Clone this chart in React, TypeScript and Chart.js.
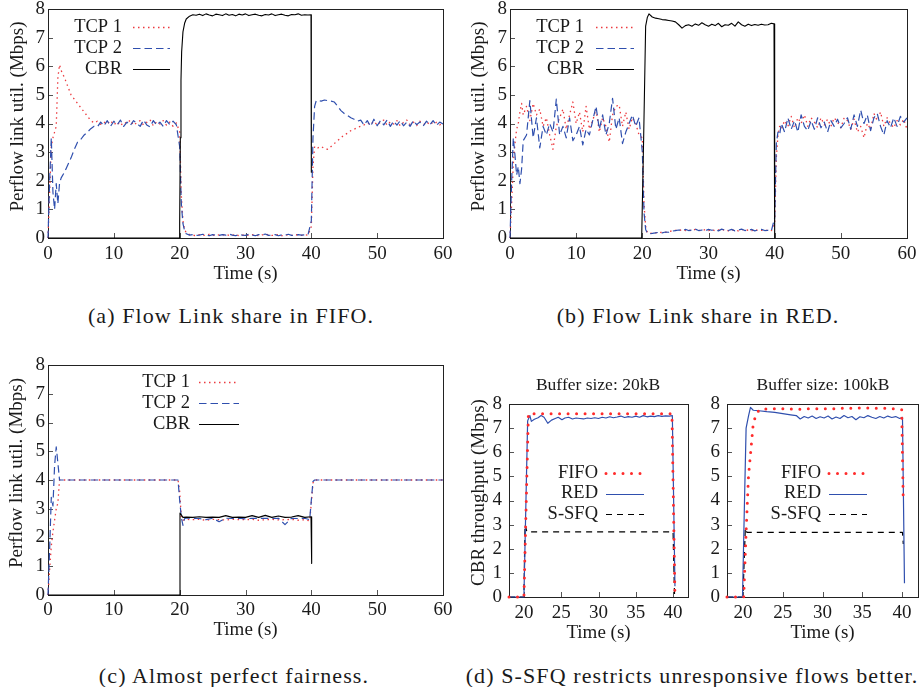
import React, { useEffect, useRef } from "react";
import { Chart, registerables } from "chart.js";

Chart.register(...registerables);

const SERIF = "'Liberation Serif', 'Times New Roman', Times, serif";
const INK = "#1a1a1a";
const RED = "#ec3a3f";
const BLUE = "#2f4fae";
const BLACK = "#000000";
const FIFO_RED = "#ff2b2b";

// ---------- tick labels ----------
const xTicksFull = [0, 10, 20, 30, 40, 50, 60];
const xTicksZoom = [20, 25, 30, 35, 40];
const yTicks = [0, 1, 2, 3, 4, 5, 6, 7, 8];

// ---------- panels (a) and (b): shared time grid (s) ----------
const timeGridAB = [
  0, 0.25, 0.5, 0.75, 1, 1.25, 1.5, 1.75, 2,
  2.5, 3, 3.5, 4, 4.5, 5, 5.5, 6, 6.5, 7,
  7.5, 8, 8.5, 9, 9.5, 10, 10.5, 11, 11.5, 12,
  12.5, 13, 13.5, 14, 14.5, 15, 15.5, 16, 16.5, 17,
  17.5, 18, 18.5, 19, 19.5,
  20, 20.25, 20.5, 20.75,
  21, 21.5, 22, 22.5, 23, 23.5, 24, 24.5, 25, 25.5,
  26, 26.5, 27, 27.5, 28, 28.5, 29, 29.5, 30, 30.5,
  31, 31.5, 32, 32.5, 33, 33.5, 34, 34.5, 35, 35.5,
  36, 36.5, 37, 37.5, 38, 38.5, 39, 39.5,
  40, 40.25, 40.5, 40.75,
  41, 41.5, 42, 42.5, 43, 43.5, 44, 44.5, 45, 45.5,
  46, 46.5, 47, 47.5, 48, 48.5, 49, 49.5, 50, 50.5,
  51, 51.5, 52, 52.5, 53, 53.5, 54, 54.5, 55, 55.5,
  56, 56.5, 57, 57.5, 58, 58.5, 59, 59.5, 60,
];

// (a) FIFO
const fifoTcp1 = [
  0, 1.6, 3.2, 3.5, 3.7, 3.9, 5.6, 6.05, 5.85,
  5.6, 5.3, 5.0, 4.85, 4.7, 4.55, 4.4, 4.25, 4.1, 4.02,
  4.08, 3.97, 4.05, 3.98, 4.1, 3.95, 4.06, 3.92, 4.05, 4.0,
  4.12, 3.94, 4.03, 4.1, 3.95, 4.04, 4.13, 3.92, 4.06, 3.98,
  4.1, 3.94, 4.05, 3.9, 4.02,
  3.7, 1.5, 0.6, 0.3,
  0.18, 0.12, 0.1, 0.08, 0.12, 0.1, 0.09, 0.13, 0.1, 0.08,
  0.11, 0.1, 0.13, 0.09, 0.1, 0.12, 0.08, 0.1, 0.11, 0.09,
  0.12, 0.1, 0.08, 0.11, 0.1, 0.13, 0.09, 0.1, 0.12, 0.08,
  0.1, 0.11, 0.09, 0.12, 0.1, 0.09, 0.11, 0.1,
  0.4, 2.5, 3.2, 3.15,
  3.15, 3.2, 3.12, 3.1, 3.2, 3.3, 3.4, 3.5, 3.6, 3.66,
  3.75, 3.8, 3.86, 3.9, 3.95, 4.02, 3.96, 4.08, 3.95, 4.05,
  4.12, 3.94, 4.06, 3.98, 4.1, 3.92, 4.04, 4.12, 3.96, 4.05,
  3.93, 4.08, 4.0, 3.94, 4.07, 3.98, 4.04, 3.95, 4.02,
];
const fifoTcp2 = [
  0, 2.0, 3.5, 1.6, 1.0, 1.9, 1.2, 1.9, 2.1,
  2.3, 2.55, 2.8, 3.1, 3.35, 3.45, 3.6, 3.7, 3.82, 3.9,
  3.88, 4.05, 3.92, 4.1, 3.9, 4.08, 3.95, 4.12, 3.9, 4.05,
  3.93, 4.1, 4.0, 3.9, 4.12, 3.95, 3.88, 4.1, 3.94, 4.05,
  3.9, 4.1, 3.96, 4.08, 3.95,
  3.2, 1.2, 0.5, 0.25,
  0.15, 0.1, 0.12, 0.09, 0.1, 0.13, 0.1, 0.08, 0.12, 0.1,
  0.09, 0.12, 0.1, 0.14, 0.1, 0.08, 0.12, 0.1, 0.09, 0.13,
  0.1, 0.08, 0.12, 0.1, 0.14, 0.09, 0.1, 0.12, 0.08, 0.11,
  0.1, 0.13, 0.09, 0.1, 0.12, 0.1, 0.11, 0.12,
  0.6, 3.5, 4.6, 4.8,
  4.8, 4.78, 4.82, 4.8, 4.78, 4.75, 4.6, 4.45, 4.35, 4.28,
  4.2, 4.15, 4.08, 4.12, 3.95, 4.1, 3.9, 4.15, 3.92, 4.1,
  3.95, 4.12, 3.9, 4.08, 3.94, 4.1, 3.92, 4.05, 3.9, 4.1,
  3.96, 4.05, 3.92, 4.08, 3.95, 4.1, 3.93, 4.05, 3.98,
];
const fifoCbrTime = [
  0, 19.9, 20, 20.1, 20.2, 20.3, 20.5, 20.75, 21, 21.5, 22,
  22.5, 23, 23.5, 24, 24.5, 25, 25.5, 26, 26.5, 27,
  27.5, 28, 28.5, 29, 29.5, 30, 30.5, 31, 31.5, 32,
  32.5, 33, 33.5, 34, 34.5, 35, 35.5, 36, 36.5, 37,
  37.5, 38, 38.5, 39, 39.5,
  39.95, 40,
];
const fifoCbrVals = [
  0, 0, 0.5, 3.5, 5.5, 6.5, 7.2, 7.5, 7.65, 7.75, 7.8,
  7.78, 7.82, 7.77, 7.83, 7.79, 7.76, 7.82, 7.8, 7.77, 7.83,
  7.78, 7.81, 7.76, 7.82, 7.79, 7.83, 7.77, 7.8, 7.82, 7.78,
  7.76, 7.81, 7.79, 7.83, 7.77, 7.8, 7.82, 7.78, 7.76, 7.81,
  7.8, 7.83, 7.78, 7.8, 7.79,
  7.8, 2.3,
];

// (b) RED
const redTcp1 = [
  0, 1.2, 2.6, 3.3, 3.8, 4.0, 4.4, 4.7, 4.3,
  4.6, 4.1, 4.7, 4.3, 4.5, 3.9, 4.2, 3.6, 3.1, 3.9,
  4.2, 4.5, 3.8, 4.3, 4.75, 4.0, 4.4, 3.7, 4.6, 3.8,
  4.1, 4.5, 3.7, 4.2, 3.9, 3.35, 4.3, 4.6, 4.65, 3.9,
  4.4, 3.8, 4.2, 4.0, 3.6,
  3.5, 1.2, 0.4, 0.2,
  0.15, 0.17, 0.18, 0.2, 0.19, 0.2, 0.22, 0.25, 0.27, 0.25,
  0.3, 0.26, 0.28, 0.25, 0.3, 0.27, 0.25, 0.29, 0.26, 0.3,
  0.25, 0.28, 0.26, 0.3, 0.25, 0.28, 0.27, 0.25, 0.3, 0.26,
  0.28, 0.25, 0.3, 0.26, 0.27, 0.25, 0.28, 0.26,
  0.5, 2.8, 3.6, 3.9,
  3.8, 4.1, 3.9, 4.25, 3.85, 4.2, 4.0, 4.3, 3.9, 4.2,
  4.05, 3.85, 4.2, 3.95, 4.15, 3.9, 4.2, 4.05, 3.85, 4.2,
  4.1, 3.8, 4.15, 3.7, 3.9, 3.5, 4.0, 3.8, 4.35, 4.1,
  4.4, 3.9, 4.2, 4.0, 3.85, 4.1, 3.95, 4.15, 3.8,
];
const redTcp2 = [
  0, 2.0, 3.5, 2.9, 2.2, 2.5, 1.9, 2.4, 3.4,
  3.6, 4.8, 3.5, 4.2, 3.15, 3.9, 3.6, 4.0, 3.7, 4.85,
  3.6, 3.9, 3.5, 4.2, 3.4, 3.6, 3.9, 3.25, 3.8, 3.6,
  4.1, 4.6, 3.8, 4.3, 3.6, 4.0, 4.88, 3.8, 4.2, 3.3,
  3.7, 4.0, 4.3, 3.9, 4.2,
  3.0, 0.9, 0.3, 0.18,
  0.15, 0.16, 0.18, 0.2, 0.18, 0.21, 0.2, 0.24, 0.26, 0.28,
  0.27, 0.3, 0.26, 0.28, 0.31, 0.26, 0.28, 0.25, 0.3, 0.27,
  0.29, 0.25, 0.31, 0.27, 0.26, 0.3, 0.25, 0.28, 0.31, 0.26,
  0.27, 0.3, 0.25, 0.28, 0.3, 0.26, 0.27, 0.25,
  0.7, 3.3, 3.7, 3.6,
  4.0, 3.7, 4.2, 3.8, 4.1, 3.7, 4.3, 3.9, 3.75, 4.1,
  3.8, 4.2, 3.85, 4.05, 3.7, 4.1, 3.9, 4.15, 3.85, 4.0,
  4.2, 3.8, 4.3, 3.9, 4.47, 4.0, 4.3, 3.75, 4.2, 4.35,
  3.9, 3.6, 4.1, 3.85, 4.2, 3.9, 4.25, 4.05, 4.2,
];
const redCbrTime = [
  0, 19.9, 20.2, 20.5, 20.75, 21, 21.5, 22, 22.5, 23,
  23.5, 24, 24.5, 25, 25.5, 26,
  26.5, 27, 27.5, 28, 28.5, 29, 29.5, 30, 30.5, 31,
  31.5, 32, 32.5, 33, 33.5, 34, 34.5, 35, 35.5, 36,
  36.5, 37, 37.5, 38, 38.5, 39, 39.5,
  39.9, 40,
];
const redCbrVals = [
  0, 0, 3.5, 7.4, 7.7, 7.83, 7.72, 7.68, 7.66, 7.63,
  7.62, 7.6, 7.58, 7.55, 7.45, 7.33,
  7.42, 7.45, 7.4, 7.48, 7.43, 7.52, 7.45, 7.4, 7.47, 7.42,
  7.5, 7.38, 7.45, 7.43, 7.5, 7.4, 7.55, 7.45, 7.4, 7.47,
  7.42, 7.46, 7.43, 7.47, 7.44, 7.45, 7.5,
  7.48, 0,
];

// ---------- panel (c): S-SFQ ----------
const sfqTime = [
  0, 0.25, 0.5, 0.75, 1, 1.25, 1.5, 1.75, 2,
  4, 6, 8, 10, 12, 14, 16, 18, 19.75,
  20, 20.25, 20.5, 20.75, 21,
  22, 23, 24, 25, 26, 27, 28, 29, 30, 31, 32, 33, 34, 35, 36, 37, 38,
  39, 39.75,
  40, 40.25, 40.5, 41,
  44, 48, 52, 56, 60,
];
const sfqTcp1 = [
  0, 0.9, 1.7, 2.2, 2.6, 3.0, 3.2, 4.0, 4.0,
  4.0, 4.0, 4.0, 4.0, 4.0, 4.0, 4.0, 4.0, 4.0,
  3.6, 2.7, 2.6, 2.62, 2.63,
  2.62, 2.63, 2.6, 2.63, 2.62, 2.61, 2.63, 2.62, 2.62, 2.63, 2.6, 2.62, 2.63, 2.61, 2.62, 2.63, 2.6,
  2.62, 2.58,
  3.2, 3.9, 4.0, 4.0,
  4.0, 4.0, 4.0, 4.0, 4.0,
];
const sfqTcp2 = [
  0, 1.6, 3.4, 3.1, 4.5, 5.15, 4.6, 4.0, 4.0,
  4.0, 4.0, 4.0, 4.0, 4.0, 4.0, 4.0, 4.0, 4.0,
  3.3, 2.7, 2.42, 2.66, 2.67,
  2.67, 2.66, 2.62, 2.67, 2.55, 2.67, 2.66, 2.67, 2.65, 2.67, 2.66, 2.67, 2.66, 2.67, 2.45, 2.67, 2.66,
  2.67, 2.62,
  3.3, 3.95, 4.0, 4.0,
  4.0, 4.0, 4.0, 4.0, 4.0,
];
const sfqCbrTime = [
  0, 19.95, 20.05, 20.5, 21,
  22, 23, 24, 25, 26, 27, 28, 29, 30, 31, 32, 33, 34, 35, 36, 37, 38, 39,
  39.95, 40.05,
];
const sfqCbrVals = [
  0, 0, 2.85, 2.7, 2.71,
  2.7, 2.72, 2.7, 2.71, 2.7, 2.76, 2.7, 2.71, 2.7, 2.76, 2.7, 2.77, 2.7, 2.75, 2.7, 2.71, 2.76, 2.7,
  2.72, 1.1,
];

// ---------- panel (d): CBR throughput, buffer 20kB ----------
const buf20FifoTime = [18, 20.0, 20.6, 22, 25, 30, 35, 39.85, 40.25];
const buf20FifoVals = [0, 0, 7.6, 7.6, 7.6, 7.6, 7.6, 7.6, 0];
const buf20RedTime = [
  18, 20.0, 20.5, 20.8, 21.0, 21.4, 21.9, 22.3, 22.7, 23.2,
  23.7, 24.2, 24.6, 25.1, 25.5,
  26, 26.5, 27, 27.5, 28, 28.5, 29, 29.5, 30, 30.5,
  31, 31.5, 32, 32.5, 33, 33.5, 34, 34.5, 35, 35.5,
  36, 36.5, 37, 37.5, 38, 38.5, 39, 39.5,
  39.9, 40.25,
];
const buf20RedVals = [
  0, 0, 7.3, 7.52, 7.28, 7.37, 7.43, 7.52, 7.45, 7.2,
  7.33, 7.4, 7.45, 7.35, 7.42,
  7.45, 7.38, 7.42, 7.4, 7.38, 7.42, 7.4, 7.43, 7.4, 7.45,
  7.42, 7.47, 7.43, 7.46, 7.5, 7.44, 7.48, 7.45, 7.5, 7.45,
  7.52, 7.47, 7.5, 7.48, 7.52, 7.49, 7.51, 7.5,
  7.52, 0.45,
];
const buf20SfqTime = [18, 20.0, 20.15, 20.4, 40.0, 40.2];
const buf20SfqVals = [0, 0, 3.0, 2.7, 2.7, 0];

// ---------- panel (d): CBR throughput, buffer 100kB ----------
const buf100FifoTime = [
  18, 20.1, 20.4, 20.7, 21.0, 21.3, 21.7, 22.1,
  23, 24, 25, 26, 27, 28, 29, 30, 31, 32, 33, 34, 35, 36, 37, 38, 39,
  39.95, 40.15,
];
const buf100FifoVals = [
  0, 0, 2.7, 5.0, 6.1, 7.2, 7.6, 7.78,
  7.8, 7.8, 7.8, 7.79, 7.78, 7.8, 7.8, 7.81, 7.8, 7.81, 7.83, 7.82, 7.84, 7.83, 7.82, 7.82, 7.8,
  7.76, 3.9,
];
const buf100RedTime = [
  18, 19.95, 20.2, 20.4, 20.7, 20.95, 21.3,
  22, 23, 24, 25, 26,
  26.7, 27.2, 27.7, 28.2, 28.7, 29.2, 29.7, 30.2, 30.7, 31.2,
  31.7, 32.2, 32.7, 33.2, 33.7, 34.2, 34.7, 35.2, 35.7, 36.2,
  36.7, 37.2, 37.7, 38.2, 38.7, 39.2, 39.7,
  40.05, 40.3,
];
const buf100RedVals = [
  0, 0, 4.0, 7.0, 7.5, 7.86, 7.74,
  7.72, 7.68, 7.65, 7.6, 7.55,
  7.52, 7.38, 7.48, 7.42, 7.5, 7.4, 7.47, 7.42, 7.5, 7.38,
  7.46, 7.4, 7.52, 7.43, 7.48, 7.35, 7.47, 7.43, 7.52, 7.45,
  7.4, 7.48, 7.42, 7.5, 7.44, 7.48, 7.4,
  7.45, 0.57,
];
const buf100SfqTime = [18, 20.0, 20.3, 20.5, 40.05, 40.15];
const buf100SfqVals = [0, 0, 2.85, 2.68, 2.68, 2.2];

// ---------- captions ----------
const captionTexts = [
  "(a) Flow Link share in FIFO.",
  "(b) Flow Link share in RED.",
  "(c) Almost perfect fairness.",
  "(d) S-SFQ restricts unresponsive flows better.",
];
const captionCenterX = [231, 698, 234, 692];
const captionCenterY = [316, 316, 676, 676];

// ---------- types ----------
type Rect = { left: number; top: number; width: number; height: number };
type Plot = { left: number; top: number; right: number; bottom: number };
type Line = {
  label: string;
  t: number[];
  v: number[];
  color: string;
  width: number;
  dash: number[];
  cap: CanvasLineCap;
  order: number;
};
type Legend = { textRight: number; x1: number; x2: number; rows: number[]; size: number };
type Panel = {
  id: string;
  canvas: Rect;
  plot: Plot;
  xMin: number;
  xMax: number;
  xTicks: number[];
  xTitle: string;
  yTitle: string;
  yTitleX: number;
  yTitleY: number;
  title?: string;
  titleX?: number;
  titleY?: number;
  legend: Legend;
  lines: Line[];
  xPad: number;
  yPad: number;
};

const tcpLines = (t1: number[], v1: number[], t2: number[], v2: number[], tc: number[], vc: number[]): Line[] => [
  { label: "TCP 1", t: t1, v: v1, color: RED, width: 1.3, dash: [1.5, 3.5], cap: "butt", order: 2 },
  { label: "TCP 2", t: t2, v: v2, color: BLUE, width: 1.2, dash: [7.5, 4], cap: "butt", order: 1 },
  { label: "CBR", t: tc, v: vc, color: BLACK, width: 1.1, dash: [], cap: "butt", order: 0 },
];
const cbrLines = (tf: number[], vf: number[], tr: number[], vr: number[], ts: number[], vs: number[]): Line[] => [
  { label: "FIFO", t: tf, v: vf, color: FIFO_RED, width: 3, dash: [0, 8.5], cap: "round", order: 0 },
  { label: "RED", t: tr, v: vr, color: BLUE, width: 1.2, dash: [], cap: "butt", order: 1 },
  { label: "S-SFQ", t: ts, v: vs, color: BLACK, width: 1.2, dash: [6, 5], cap: "butt", order: 2 },
];

const panels: Panel[] = [
  {
    id: "a",
    canvas: { left: 0, top: -11, width: 461, height: 296 },
    plot: { left: 48, top: 9, right: 443, bottom: 238 },
    xMin: 0, xMax: 60, xTicks: xTicksFull,
    xTitle: "Time (s)", yTitle: "Perflow link util. (Mbps)", yTitleX: 18, yTitleY: 116.5,
    legend: { textRight: 122, x1: 133, x2: 170, rows: [27, 48, 69], size: 18.5 },
    lines: tcpLines(timeGridAB, fifoTcp1, timeGridAB, fifoTcp2, fifoCbrTime, fifoCbrVals),
    xPad: 4.5, yPad: 3,
  },
  {
    id: "b",
    canvas: { left: 461, top: -11, width: 461, height: 296 },
    plot: { left: 510, top: 9, right: 907, bottom: 238 },
    xMin: 0, xMax: 60, xTicks: xTicksFull,
    xTitle: "Time (s)", yTitle: "Perflow link util. (Mbps)", yTitleX: 479, yTitleY: 116.5,
    legend: { textRight: 584, x1: 596, x2: 634, rows: [27, 48, 69], size: 18.5 },
    lines: tcpLines(timeGridAB, redTcp1, timeGridAB, redTcp2, redCbrTime, redCbrVals),
    xPad: 4.5, yPad: 3,
  },
  {
    id: "c",
    canvas: { left: 0, top: 340, width: 461, height: 301 },
    plot: { left: 48, top: 365, right: 443, bottom: 595 },
    xMin: 0, xMax: 60, xTicks: xTicksFull,
    xTitle: "Time (s)", yTitle: "Perflow link util. (Mbps)", yTitleX: 17.5, yTitleY: 473,
    legend: { textRight: 190, x1: 199, x2: 239, rows: [382, 403, 424], size: 18.5 },
    lines: tcpLines(sfqTime, sfqTcp1, sfqTime, sfqTcp2, sfqCbrTime, sfqCbrVals),
    xPad: 3.5, yPad: 3,
  },
  {
    id: "d1",
    canvas: { left: 461, top: 360, width: 239, height: 284 },
    plot: { left: 509, top: 404, right: 688, bottom: 597 },
    xMin: 18, xMax: 42, xTicks: xTicksZoom,
    xTitle: "Time (s)", yTitle: "CBR throughput (Mbps)", yTitleX: 479, yTitleY: 492.5,
    title: "Buffer size: 20kB", titleX: 598, titleY: 385,
    legend: { textRight: 598, x1: 606, x2: 644, rows: [473, 493.5, 514], size: 18.5 },
    lines: cbrLines(buf20FifoTime, buf20FifoVals, buf20RedTime, buf20RedVals, buf20SfqTime, buf20SfqVals),
    xPad: 5, yPad: 7,
  },
  {
    id: "d2",
    canvas: { left: 700, top: 360, width: 222, height: 284 },
    plot: { left: 727, top: 404, right: 918, bottom: 597 },
    xMin: 18, xMax: 42, xTicks: xTicksZoom,
    xTitle: "Time (s)", yTitle: "", yTitleX: 0, yTitleY: 0,
    title: "Buffer size: 100kB", titleX: 823, titleY: 385,
    legend: { textRight: 821, x1: 829, x2: 867, rows: [473, 493.5, 514], size: 18.5 },
    lines: cbrLines(buf100FifoTime, buf100FifoVals, buf100RedTime, buf100RedVals, buf100SfqTime, buf100SfqVals),
    xPad: 5, yPad: 7,
  },
];

function makeDecor(p: Panel) {
  const ox = p.canvas.left;
  const oy = p.canvas.top;
  return {
    id: "decor_" + p.id,
    beforeDatasetsDraw(chart: any) {
      const { ctx, chartArea: a } = chart;
      const sx = chart.scales.x;
      const sy = chart.scales.y;
      ctx.save();
      ctx.lineWidth = 1;
      ctx.setLineDash([]);
      ctx.strokeStyle = "#555";
      ctx.beginPath();
      p.xTicks.forEach((v) => {
        const x = Math.round(sx.getPixelForValue(v)) + 0.5;
        ctx.moveTo(x, a.bottom);
        ctx.lineTo(x, a.bottom - 5);
      });
      yTicks.forEach((v) => {
        const y = Math.round(sy.getPixelForValue(v)) + 0.5;
        ctx.moveTo(a.left, y);
        ctx.lineTo(a.left + 5, y);
      });
      ctx.stroke();
      ctx.strokeStyle = "#222";
      ctx.strokeRect(
        Math.round(a.left) + 0.5,
        Math.round(a.top) + 0.5,
        Math.round(a.right - a.left),
        Math.round(a.bottom - a.top)
      );
      ctx.restore();
    },
    afterDraw(chart: any) {
      const ctx: CanvasRenderingContext2D = chart.ctx;
      ctx.save();
      ctx.fillStyle = INK;
      if (p.yTitle) {
        ctx.save();
        ctx.font = `19px ${SERIF}`;
        ctx.translate(p.yTitleX - ox, p.yTitleY - oy);
        ctx.rotate(-Math.PI / 2);
        ctx.textAlign = "center";
        ctx.textBaseline = "middle";
        ctx.fillText(p.yTitle, 0, 0);
        ctx.restore();
      }
      if (p.title) {
        ctx.font = `17.5px ${SERIF}`;
        ctx.textAlign = "center";
        ctx.textBaseline = "middle";
        ctx.fillText(p.title, (p.titleX as number) - ox, (p.titleY as number) - oy);
      }
      const L = p.legend;
      chart.data.datasets.forEach((ds: any, i: number) => {
        const y = L.rows[i] - oy;
        ctx.font = `${L.size}px ${SERIF}`;
        ctx.fillStyle = INK;
        ctx.textAlign = "right";
        ctx.textBaseline = "middle";
        ctx.fillText(ds.label, L.textRight - ox, y);
        ctx.save();
        ctx.beginPath();
        ctx.strokeStyle = ds.borderColor;
        ctx.lineWidth = ds.borderWidth;
        ctx.lineCap = ds.borderCapStyle;
        ctx.setLineDash(ds.borderDash || []);
        ctx.moveTo(L.x1 - ox, Math.round(y) + 0.5);
        ctx.lineTo(L.x2 - ox, Math.round(y) + 0.5);
        ctx.stroke();
        ctx.restore();
      });
      ctx.restore();
    },
  };
}

function PanelCanvas({ p }: { p: Panel }) {
  const ref = useRef<HTMLCanvasElement | null>(null);
  useEffect(() => {
    if (!ref.current) return;
    const canvasRight = p.canvas.left + p.canvas.width;
    const canvasBottom = p.canvas.top + p.canvas.height;
    const tickFont = { family: SERIF, size: 19 };
    const chart = new Chart(ref.current, {
      type: "line",
      data: {
        datasets: p.lines.map((l) => ({
          label: l.label,
          data: l.t.map((t, i) => ({ x: t, y: l.v[i] })),
          borderColor: l.color,
          backgroundColor: l.color,
          borderWidth: l.width,
          borderDash: l.dash,
          borderCapStyle: l.cap,
          borderJoinStyle: "round",
          pointRadius: 0,
          pointHoverRadius: 0,
          tension: 0,
          fill: false,
          order: l.order,
          clip: 4,
        })),
      },
      options: {
        animation: false,
        responsive: false,
        maintainAspectRatio: false,
        events: [],
        layout: {
          padding: {
            left: 0,
            right: canvasRight - p.plot.right,
            top: p.plot.top - p.canvas.top,
            bottom: 0,
          },
        },
        plugins: {
          legend: { display: false },
          tooltip: { enabled: false },
          title: { display: false },
        },
        scales: {
          x: {
            type: "linear",
            min: p.xMin,
            max: p.xMax,
            grid: { display: false, drawTicks: false },
            border: { display: false },
            ticks: { color: INK, font: tickFont, padding: p.xPad, maxRotation: 0, autoSkip: false },
            afterBuildTicks: (s: any) => {
              s.ticks = p.xTicks.map((value) => ({ value }));
            },
            afterFit: (s: any) => {
              s.height = canvasBottom - p.plot.bottom;
            },
            title: { display: true, text: p.xTitle, color: INK, font: tickFont, padding: 0 },
          },
          y: {
            type: "linear",
            min: 0,
            max: 8,
            grid: { display: false, drawTicks: false },
            border: { display: false },
            ticks: { color: INK, font: tickFont, padding: p.yPad, autoSkip: false },
            afterBuildTicks: (s: any) => {
              s.ticks = yTicks.map((value) => ({ value }));
            },
            afterFit: (s: any) => {
              s.width = p.plot.left - p.canvas.left;
            },
          },
        },
      } as any,
      plugins: [makeDecor(p)],
    });
    return () => chart.destroy();
  }, [p]);
  return (
    <canvas
      ref={ref}
      width={p.canvas.width}
      height={p.canvas.height}
      style={{
        position: "absolute",
        left: p.canvas.left,
        top: p.canvas.top,
        width: p.canvas.width,
        height: p.canvas.height,
      }}
    />
  );
}

export default function App() {
  return (
    <div
      style={{
        position: "absolute",
        left: 0,
        top: 0,
        width: 922,
        height: 687,
        overflow: "hidden",
        background: "#ffffff",
      }}
    >
      {panels.map((p) => (
        <PanelCanvas key={p.id} p={p} />
      ))}
      {captionTexts.map((text, i) => (
        <div
          key={text}
          style={{
            position: "absolute",
            left: captionCenterX[i] - 300,
            width: 600,
            top: captionCenterY[i] - 15,
            height: 30,
            lineHeight: "30px",
            textAlign: "center",
            fontFamily: SERIF,
            fontSize: 22,
            letterSpacing: "1.1px",
            color: INK,
            whiteSpace: "nowrap",
          }}
        >
          {text}
        </div>
      ))}
    </div>
  );
}
